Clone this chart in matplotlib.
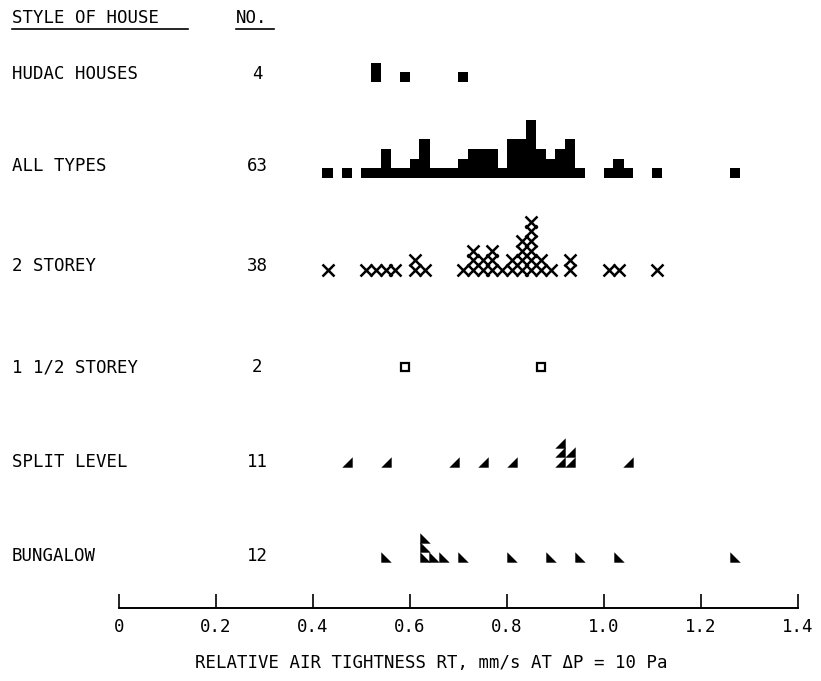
import matplotlib
matplotlib.use("Agg")
import matplotlib.pyplot as plt
from matplotlib.lines import Line2D
from matplotlib.transforms import blended_transform_factory
import numpy as np

# ---- data: relative air tightness bins (mm/s) and number of houses per bin ----
hudac_rt = [0.53, 0.59, 0.71]
hudac_n = [2, 1, 1]

all_rt = [0.43, 0.47, 0.51, 0.53, 0.55, 0.57, 0.59, 0.61, 0.63, 0.65,
          0.67, 0.69, 0.71, 0.73, 0.75, 0.77, 0.79, 0.81, 0.83, 0.85,
          0.87, 0.89, 0.91, 0.93, 0.95, 1.01, 1.03, 1.05, 1.11, 1.27]
all_n = [1, 1, 1, 1, 3, 1, 1, 2, 4, 1,
         1, 1, 2, 3, 3, 3, 1, 4, 4, 6,
         3, 2, 3, 4, 1, 1, 2, 1, 1, 1]

storey2_rt = [0.43, 0.51, 0.53, 0.55, 0.57, 0.61, 0.63, 0.71, 0.73, 0.75,
              0.77, 0.79, 0.81, 0.83, 0.85, 0.87, 0.89, 0.93, 1.01, 1.03, 1.11]
storey2_n = [1, 1, 1, 1, 1, 2, 1, 1, 3, 2,
             3, 1, 2, 4, 6, 2, 1, 2, 1, 1, 1]

storey15_rt = [0.59, 0.87]
storey15_n = [1, 1]

split_rt = [0.47, 0.55, 0.69, 0.75, 0.81, 0.91, 0.93, 1.05]
split_n = [1, 1, 1, 1, 1, 3, 2, 1]

bungalow_rt = [0.55, 0.63, 0.65, 0.67, 0.71, 0.81, 0.89, 0.95, 1.03, 1.27]
bungalow_n = [1, 3, 1, 1, 1, 1, 1, 1, 1, 1]

row_labels = ["HUDAC HOUSES", "ALL TYPES", "2 STOREY", "1 1/2 STOREY",
              "SPLIT LEVEL", "BUNGALOW"]
row_counts = ["4", "63", "38", "2", "11", "12"]

tick_values = [0, 0.2, 0.4, 0.6, 0.8, 1.0, 1.2, 1.4]
tick_labels = ["0", "0.2", "0.4", "0.6", "0.8", "1.0", "1.2", "1.4"]

# ---- layout (pixels measured from the bottom of the figure) ----
W, H = 821, 681
FONT = ["DejaVu Sans Mono", "DejaVu Sans"]
FS = 12.5
BIN_W = 0.02          # width of one stacked mark in data units
PITCH = 9.7           # vertical pitch of stacked marks, px

label_y = [607, 515, 415, 314, 219, 125]

fig = plt.figure(figsize=(W / 100, H / 100), dpi=100)
fig.patch.set_facecolor("white")
ax = fig.add_axes([119 / W, 73 / H, (798 - 119) / W, (H - 73) / H])
ax.set_xlim(0, 1.4)
ax.set_ylim(73, H)
ax.set_facecolor("white")


def stack(xs, ns, base):
    px, py = [], []
    for xv, n in zip(xs, ns):
        for i in range(n):
            px.append(xv)
            py.append(base + i * PITCH)
    return np.array(px), np.array(py)


# filled-square histograms
ax.bar(hudac_rt, np.array(hudac_n) * PITCH, bottom=599, width=BIN_W * 1.05,
       color="black", align="center", linewidth=0)
ax.bar(all_rt, np.array(all_n) * PITCH, bottom=503, width=BIN_W * 1.05,
       color="black", align="center", linewidth=0)

# 2 storey: crosses
x2, y2 = stack(storey2_rt, storey2_n, 411)
ax.plot(x2, y2, linestyle="none", marker="x", color="black",
        markersize=8.0, markeredgewidth=1.8)

# 1 1/2 storey: open squares
x15, y15 = stack(storey15_rt, storey15_n, 314)
ax.plot(x15, y15, linestyle="none", marker="s", color="black",
        markerfacecolor="white", markersize=6.0, markeredgewidth=1.6)

# split level: right triangles, right angle at bottom right
tri_split = [(-1, -1), (1, -1), (1, 1), (-1, -1)]
xs, ys = stack(split_rt, split_n, 219)
ax.plot(xs, ys, linestyle="none", marker=tri_split, color="black",
        markersize=7.5, markeredgewidth=0)

# bungalow: right triangles, right angle at bottom left
tri_bung = [(-1, 1), (-1, -1), (1, -1), (-1, 1)]
xb, yb = stack(bungalow_rt, bungalow_n, 124)
ax.plot(xb, yb, linestyle="none", marker=tri_bung, color="black",
        markersize=7.5, markeredgewidth=0)

# axis styling: only the bottom line with upward ticks
for side in ("top", "left", "right"):
    ax.spines[side].set_visible(False)
ax.spines["bottom"].set_linewidth(1.4)
ax.set_yticks([])
ax.set_xticks(tick_values)
ax.set_xticklabels(tick_labels, fontfamily=FONT, fontsize=FS)
ax.tick_params(axis="x", direction="in", length=10, width=1.2, pad=7,
               colors="black")

# row labels and counts
tr = blended_transform_factory(fig.transFigure, ax.transData)
for lab, cnt, yy in zip(row_labels, row_counts, label_y):
    ax.text(12 / W, yy, lab, transform=tr, ha="left", va="center",
            fontfamily=FONT, fontsize=FS, clip_on=False)
    ax.text(257 / W, yy, cnt, transform=tr, ha="center", va="center",
            fontfamily=FONT, fontsize=FS, clip_on=False)

# column headers with underlines
fig.text(12 / W, (H - 18) / H, "STYLE OF HOUSE", ha="left", va="center",
         fontfamily=FONT, fontsize=FS)
fig.text(236 / W, (H - 18) / H, "NO.", ha="left", va="center",
         fontfamily=FONT, fontsize=FS)
fig.add_artist(Line2D([12 / W, 188 / W], [(H - 29) / H] * 2,
                      transform=fig.transFigure, color="black", lw=1.2))
fig.add_artist(Line2D([236 / W, 274 / W], [(H - 29) / H] * 2,
                      transform=fig.transFigure, color="black", lw=1.2))

# axis title
fig.text(431 / W, (H - 663) / H,
         "RELATIVE AIR TIGHTNESS RT, mm/s AT \u0394P = 10 Pa",
         ha="center", va="center", fontfamily=FONT, fontsize=FS)

fig.savefig("out.png", dpi=100, facecolor="white")
